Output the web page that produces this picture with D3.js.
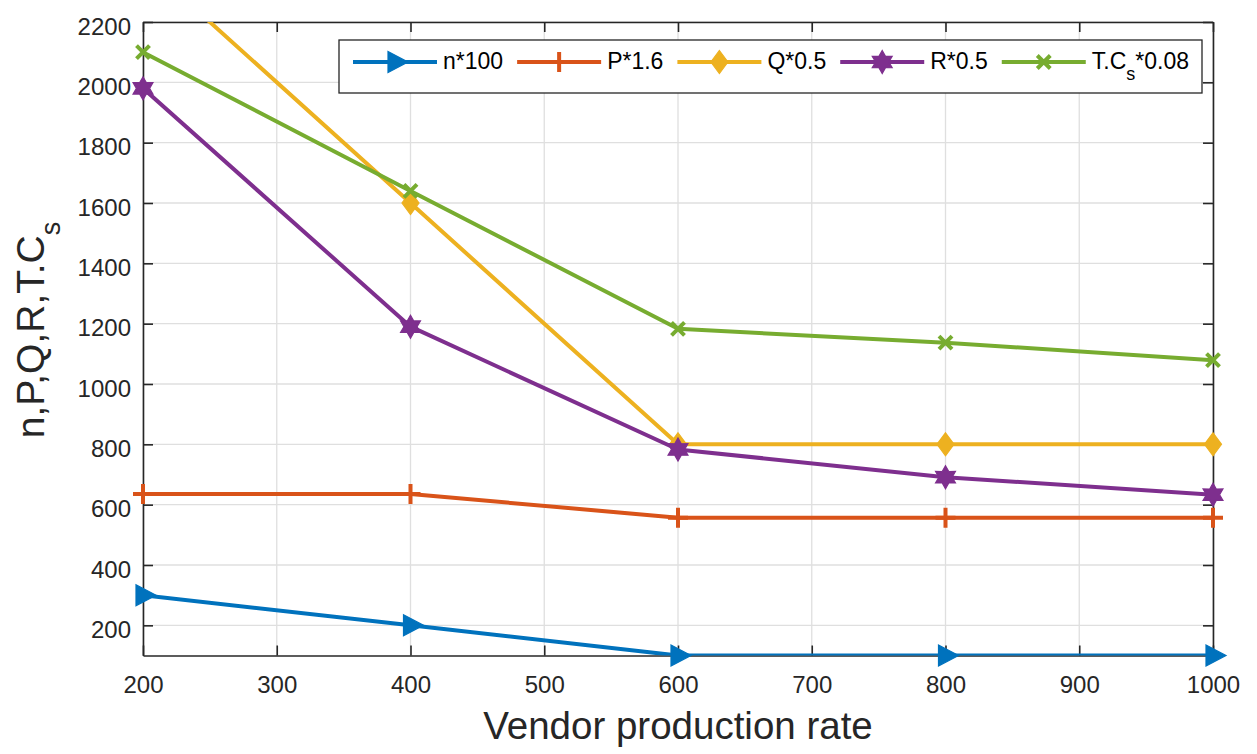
<!DOCTYPE html>
<html>
<head>
<meta charset="utf-8">
<script src="https://cdn.jsdelivr.net/npm/d3@7"></script>
<style>
  html, body { margin: 0; padding: 0; background: #fff; }
  svg { display: block; font-family: "Liberation Sans", Arial, Helvetica, sans-serif; }
</style>
</head>
<body>
<svg id="chart" width="1257" height="754"></svg>
<script>
// Vendor production rate on the x axis
const rates = [200, 400, 600, 800, 1000];

// Scaled series values
const nScaled  = [300, 200, 100, 100, 100];
const pScaled  = [635, 635, 557, 557, 557];
const qScaled  = [2400, 1600, 800, 800, 800];
const rScaled  = [1980, 1190, 783, 691, 633];
const tcScaled = [2100, 1640, 1183, 1137, 1079];

const xTicks = [200, 300, 400, 500, 600, 700, 800, 900, 1000];
const yTicks = [200, 400, 600, 800, 1000, 1200, 1400, 1600, 1800, 2000, 2200];

const seriesNames = ["n*100", "P*1.6", "Q*0.5", "R*0.5", "T.C"];
const seriesColors = ["#0072BD", "#D95319", "#EDB120", "#7E2F8E", "#77AC30"];
const seriesMarkers = ["triangleRight", "plus", "diamond", "hexagram", "cross"];

const series = [nScaled, pScaled, qScaled, rScaled, tcScaled].map((vals, i) => ({
  name: seriesNames[i], color: seriesColors[i], marker: seriesMarkers[i],
  points: vals.map((v, j) => ({ x: rates[j], y: v }))
}));

const svg = d3.select("#chart");
const pLeft = 143, pRight = 1213, pTop = 22, pBottom = 655.5;

const x = d3.scaleLinear().domain([200, 1000]).range([pLeft, pRight]);
const y = d3.scaleLinear().domain([100, 2200]).range([pBottom, pTop]);

// Grid
const grid = svg.append("g");
grid.selectAll("line.vx").data(xTicks).join("line")
  .attr("x1", d => x(d)).attr("x2", d => x(d))
  .attr("y1", pTop).attr("y2", pBottom)
  .attr("stroke", "#dfdfdf").attr("stroke-width", 1.3);
grid.selectAll("line.hy").data(yTicks).join("line")
  .attr("x1", pLeft).attr("x2", pRight)
  .attr("y1", d => y(d)).attr("y2", d => y(d))
  .attr("stroke", "#dfdfdf").attr("stroke-width", 1.3);

// Axes with inward ticks on all four sides
const tickLen = 10;
const axisColor = "#262626";
const fmt = d3.format("d");
const axB = svg.append("g").attr("transform", `translate(0,${pBottom})`)
  .call(d3.axisBottom(x).tickValues(xTicks).tickFormat(fmt).tickSizeInner(-tickLen).tickSizeOuter(0).tickPadding(20.5));
const axT = svg.append("g").attr("transform", `translate(0,${pTop})`)
  .call(d3.axisTop(x).tickValues(xTicks).tickSizeInner(-tickLen).tickSizeOuter(0).tickFormat(""));
const axL = svg.append("g").attr("transform", `translate(${pLeft},0)`)
  .call(d3.axisLeft(y).tickValues(yTicks).tickFormat(fmt).tickSizeInner(-tickLen).tickSizeOuter(0).tickPadding(12));
const axR = svg.append("g").attr("transform", `translate(${pRight},0)`)
  .call(d3.axisRight(y).tickValues(yTicks).tickSizeInner(-tickLen).tickSizeOuter(0).tickFormat(""));

[axB, axT, axL, axR].forEach(g => {
  g.select(".domain").attr("stroke", axisColor).attr("stroke-width", 1.6);
  g.selectAll(".tick line").attr("stroke", axisColor).attr("stroke-width", 1.6);
  g.selectAll(".tick text").attr("fill", axisColor).attr("font-size", 24)
    .attr("font-family", "Liberation Sans, Arial, sans-serif");
});
axL.selectAll(".tick text").attr("dy", "0.5em");

// Clip lines to the axes box
svg.append("clipPath").attr("id", "plotClip")
  .append("rect").attr("x", pLeft).attr("y", pTop)
  .attr("width", pRight - pLeft).attr("height", pBottom - pTop);

const line = d3.line().x(d => x(d.x)).y(d => y(d.y));

// Marker shapes
function markerPath(type) {
  const p = d3.path();
  if (type === "triangleRight") {
    p.moveTo(-7, -10.5); p.lineTo(13, 0); p.lineTo(-7, 10.5); p.closePath();
  } else if (type === "diamond") {
    p.moveTo(0, -11.5); p.lineTo(8.5, 0); p.lineTo(0, 11.5); p.lineTo(-8.5, 0); p.closePath();
  } else if (type === "hexagram") {
    const ro = 11.5, ri = 6.6;
    for (let k = 0; k < 12; k++) {
      const r = k % 2 === 0 ? ro : ri;
      const a = -Math.PI / 2 + k * Math.PI / 6;
      const px = r * Math.cos(a), py = r * Math.sin(a);
      if (k === 0) p.moveTo(px, py); else p.lineTo(px, py);
    }
    p.closePath();
  } else if (type === "plus") {
    p.moveTo(-10, 0); p.lineTo(10, 0);
    p.moveTo(0, -10); p.lineTo(0, 10);
  } else if (type === "cross") {
    p.moveTo(-6.5, -6.5); p.lineTo(6.5, 6.5);
    p.moveTo(-6.5, 6.5); p.lineTo(6.5, -6.5);
  }
  return p.toString();
}

function drawMarker(g, type, color, cx, cy) {
  const filled = type === "triangleRight" || type === "diamond" || type === "hexagram";
  g.append("path").attr("d", markerPath(type))
    .attr("transform", `translate(${cx},${cy})`)
    .attr("fill", filled ? color : "none")
    .attr("stroke", color).attr("stroke-width", filled ? 1.2 : 4)
    .attr("stroke-linejoin", "miter");
}

const plot = svg.append("g");
series.forEach(s => {
  plot.append("path").datum(s.points)
    .attr("clip-path", "url(#plotClip)")
    .attr("d", line).attr("fill", "none")
    .attr("stroke", s.color).attr("stroke-width", 4)
    .attr("stroke-linejoin", "round");
  const mg = plot.append("g");
  s.points.filter(d => d.y <= 2200 && d.y >= 100).forEach(d => {
    drawMarker(mg, s.marker, s.color, x(d.x), y(d.y));
  });
});

// Legend: entries laid out left to right, each after the previous label
const lg = svg.append("g");
lg.append("rect").attr("x", 339).attr("y", 40).attr("width", 863).attr("height", 53)
  .attr("fill", "#fff").attr("stroke", axisColor).attr("stroke-width", 1.3);
let cursor = 353;
const ly = 62;
series.forEach((s, i) => {
  const lx = cursor;
  lg.append("line").attr("x1", lx).attr("x2", lx + 84).attr("y1", ly).attr("y2", ly)
    .attr("stroke", s.color).attr("stroke-width", 4);
  drawMarker(lg, s.marker, s.color, lx + 42, ly);
  const t = lg.append("text").attr("x", lx + 90).attr("y", 68.5)
    .attr("font-size", 23).attr("fill", "#000");
  if (i === 4) {
    t.append("tspan").text("T.C");
    t.append("tspan").attr("font-size", 18).attr("dy", 11).text("s");
    t.append("tspan").attr("dy", -11).text("*0.08");
  } else {
    t.text(s.name);
  }
  cursor = lx + 90 + t.node().getComputedTextLength() + 14;
});

// Axis titles
svg.append("text").attr("x", (pLeft + pRight) / 2).attr("y", 739)
  .attr("text-anchor", "middle").attr("font-size", 38.5).attr("fill", axisColor)
  .text("Vendor production rate");

const yt = svg.append("text")
  .attr("transform", `translate(44,${330}) rotate(-90)`)
  .attr("text-anchor", "middle").attr("font-size", 39).attr("fill", axisColor);
yt.append("tspan").text("n,P,Q,R,T.C");
yt.append("tspan").attr("font-size", 27).attr("dy", 16).text("s");
</script>
</body>
</html>
